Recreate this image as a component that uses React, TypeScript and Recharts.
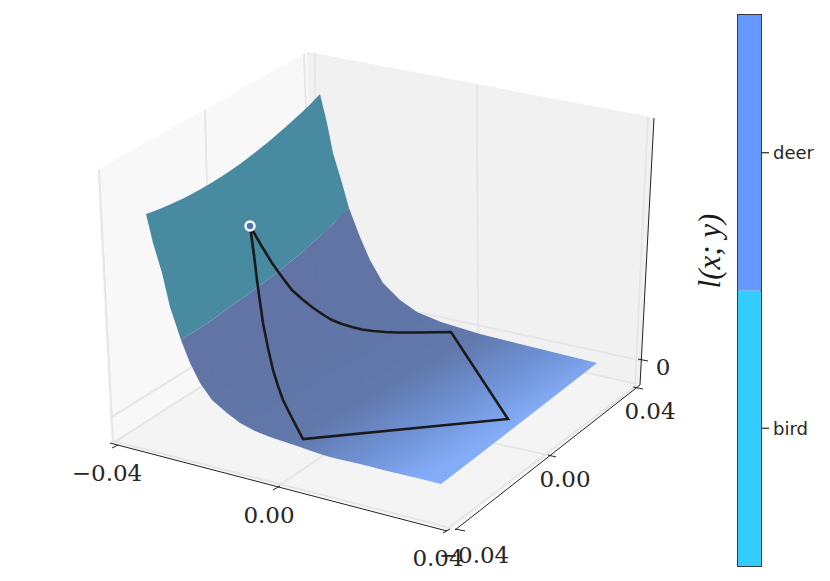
import { Area, Bar, BarChart, ComposedChart, Line, ReferenceArea, ReferenceDot, XAxis, YAxis } from "recharts";

const WIDTH = 830;
const HEIGHT = 581;

type Seg = [number, number][];

const LEFT_WALL_X = [97, 111, 307, 314];
const LEFT_WALL_TOP = [170, 162, 52, 315];
const LEFT_WALL_BOTTOM = [170, 443, 319, 315];

const RIGHT_WALL_X = [307, 314, 640, 654];
const RIGHT_WALL_TOP = [52, 53, 115, 118];
const RIGHT_WALL_BOTTOM = [52, 315, 385, 118];

const FLOOR_X = [111, 314, 450, 640];
const FLOOR_TOP = [443, 315, 344, 385];
const FLOOR_BOTTOM = [443, 495, 531, 385];

const TEAL_X = [146, 153, 162, 170, 181, 190, 200, 212, 227, 240, 255, 270, 285, 300, 310, 320, 327, 333, 342, 349];
const TEAL_TOP = [214, 211.5, 208, 204.5, 199.5, 195, 189.5, 182.5, 173, 164, 152.5, 140.5, 127.5, 114, 104.5, 94, 123, 153, 183, 208];
const TEAL_BOTTOM = [214, 243, 273, 307, 340, 334, 328, 320, 309, 300, 289, 278, 266, 254, 245, 236, 230, 224, 216, 208];

const BLUE_X = [181, 190, 200, 212, 227, 240, 255, 270, 285, 300, 310, 320, 330, 340, 349, 360, 370, 383, 400, 417, 441, 480, 520, 597];
const BLUE_TOP = [340, 334, 328, 320, 309, 300, 289, 278, 266, 254, 245, 236, 227, 217, 208, 237, 260, 283, 300, 312, 322, 334, 344, 363];
const BLUE_BOTTOM = [340, 363, 383, 400, 413, 423, 431, 437, 442, 447, 450.5, 454, 457, 459.5, 461.5, 464, 466.5, 470, 474, 478, 484, 454, 423, 363];

const GRID_LINES: Seg[] = [
  [[99, 170], [113, 442]],
  [[205, 110], [212, 382]],
  [[304, 54], [313, 314]],
  [[315, 53], [316, 313]],
  [[477, 84], [478, 350]],
  [[648, 117], [635, 384]],
  [[110, 418], [316, 290]],
  [[316, 290], [643, 361]],
  [[113, 443], [316, 313]],
  [[277, 487], [478, 350]],
  [[447, 529], [637, 385]],
  [[316, 313], [637, 384]],
  [[212, 381], [552, 456]],
  [[113, 441], [447, 527]],
];

const AXIS_LINES: Seg[] = [
  [[110, 443], [447, 531]],
  [[455, 530], [640, 385]],
  [[654, 118], [640, 385]],
];

const TICK_MARKS: Seg[] = [
  [[112, 448], [118, 445]],
  [[273, 490], [280, 486]],
  [[443, 533], [450, 529]],
  [[455, 529], [465, 531]],
  [[548, 455], [556, 457]],
  [[633, 387], [643, 389]],
  [[638, 359], [648, 361]],
];

const PATH_X = [250, 261, 272, 282, 292, 302, 312, 322, 332, 342, 352, 362, 373, 385, 397, 420, 451, 508, 303, 292, 283, 278, 273, 268, 263, 260, 257, 254, 250];
const PATH_Y = [226, 245, 263, 277, 290, 299, 307, 314, 320, 324, 327, 329.5, 331, 332, 332.5, 332.5, 332, 419, 439, 418, 400, 386, 370, 348, 323, 302, 280, 255, 226];

const START_POINT = [{ x: 250, y: 226 }];

const TICK_LABELS = ["\u22120.04", "0.00", "0.04", "\u22120.04", "0.00", "0.04", "0"];
const TICK_LABEL_X = [107, 269, 438, 474, 565, 650, 663];
const TICK_LABEL_Y = [473, 515, 558, 555, 479, 411, 367];

const CLASS_NAMES = ["bird", "deer"];
const CLASS_COLORS = ["#33ccff", "#6699ff"];
const CLASS_TICKS = [0.5, 1.5];

function band(xs: number[], tops: number[], bottoms: number[]) {
  return xs.map((x, i) => ({ x, band: [bottoms[i], tops[i]] }));
}

function segRows(seg: Seg) {
  return seg.map(([x, y]) => ({ x, y, band: [y, y] }));
}

function Shape({ rows, fill, opacity = 1 }: { rows: { x: number; band: number[] }[]; fill: string; opacity?: number }) {
  return (
    <Area
      data={rows}
      dataKey="band"
      type="linear"
      fill={fill}
      fillOpacity={opacity}
      stroke="none"
      dot={false}
      activeDot={false}
      isAnimationActive={false}
    />
  );
}

export default function App() {
  const path = PATH_X.map((x, i) => ({ x, y: PATH_Y[i] }));

  return (
    <div style={{ position: "absolute", left: 0, top: 0, width: WIDTH, height: HEIGHT, background: "#fff" }}>
      <ComposedChart width={WIDTH} height={HEIGHT} margin={{ top: 0, right: 0, bottom: 0, left: 0 }}>
        <defs>
          <linearGradient id="surface" gradientUnits="userSpaceOnUse" x1={340} y1={300} x2={438} y2={470}>
            <stop offset="0" stopColor="#5c70a2" />
            <stop offset="0.5" stopColor="#5c74a8" />
            <stop offset="0.75" stopColor="#6a8dd2" />
            <stop offset="1" stopColor="#80aaf8" />
          </linearGradient>
        </defs>
        <XAxis type="number" dataKey="x" domain={[0, WIDTH]} hide allowDataOverflow />
        <YAxis type="number" domain={[0, HEIGHT]} reversed hide allowDataOverflow />

        {Shape({ rows: band(LEFT_WALL_X, LEFT_WALL_TOP, LEFT_WALL_BOTTOM), fill: "#f8f8f8" })}
        {Shape({ rows: band(RIGHT_WALL_X, RIGHT_WALL_TOP, RIGHT_WALL_BOTTOM), fill: "#f1f1f1" })}
        {Shape({ rows: band(FLOOR_X, FLOOR_TOP, FLOOR_BOTTOM), fill: "#f4f4f4" })}

        {GRID_LINES.map((seg, i) => (
          <Area
            key={`grid-${i}`}
            data={segRows(seg)}
            dataKey="band"
            type="linear"
            fill="none"
            stroke="#e6e6e6"
            strokeWidth={1.6}
            dot={false}
            activeDot={false}
            isAnimationActive={false}
          />
        ))}

        {Shape({ rows: band(TEAL_X, TEAL_TOP, TEAL_BOTTOM), fill: "#42879e", opacity: 0.97 })}
        {Shape({ rows: band(BLUE_X, BLUE_TOP, BLUE_BOTTOM), fill: "url(#surface)", opacity: 0.97 })}

        {AXIS_LINES.map((seg, i) => (
          <Line key={`axis-${i}`} data={segRows(seg)} dataKey="y" stroke="#222" strokeWidth={1} dot={false} activeDot={false} isAnimationActive={false} />
        ))}
        {TICK_MARKS.map((seg, i) => (
          <Line key={`tick-${i}`} data={segRows(seg)} dataKey="y" stroke="#222" strokeWidth={1} dot={false} activeDot={false} isAnimationActive={false} />
        ))}

        <Line data={path} dataKey="y" type="linear" stroke="#1a1a1a" strokeWidth={2.6} dot={false} activeDot={false} isAnimationActive={false} />
        <Line
          data={START_POINT}
          dataKey="y"
          stroke="none"
          dot={{ r: 4.5, fill: "#4f74b8", stroke: "#fff", strokeWidth: 2.4 }}
          activeDot={false}
          isAnimationActive={false}
        />

        {TICK_LABELS.map((label, i) => (
          <ReferenceDot
            key={`label-${i}`}
            x={TICK_LABEL_X[i]}
            y={TICK_LABEL_Y[i]}
            r={0}
            stroke="none"
            label={{ value: label, position: "center", fontFamily: "DejaVu Serif", fontSize: 23, fill: "#262626" }}
          />
        ))}
        <ReferenceDot
          x={709}
          y={251}
          r={0}
          stroke="none"
          label={{
            value: "l(x; y)",
            position: "center",
            angle: -90,
            fontFamily: "Liberation Serif",
            fontStyle: "italic",
            fontSize: 31,
            fill: "#1a1a1a",
          }}
        />
      </ComposedChart>

      <div style={{ position: "absolute", left: 736, top: 13 }}>
        <BarChart
          width={94}
          height={555}
          data={[{ name: "classes", bird: 1, deer: 1 }]}
          margin={{ top: 2, right: 0, bottom: 2, left: 2 }}
          barCategoryGap={0}
        >
          <XAxis dataKey="name" hide />
          <YAxis
            orientation="right"
            width={69}
            type="number"
            domain={[0, 2]}
            ticks={CLASS_TICKS}
            tickFormatter={(v: number) => CLASS_NAMES[Math.floor(v)]}
            axisLine={false}
            tickSize={8}
            tickMargin={4}
            tickLine={{ stroke: "#262626", strokeWidth: 1.2 }}
            tick={{ fill: "#262626", fontSize: 18, fontFamily: "DejaVu Sans" }}
          />
          {CLASS_NAMES.map((name, i) => (
            <Bar key={name} dataKey={name} stackId="c" fill={CLASS_COLORS[i]} isAnimationActive={false} />
          ))}
          <ReferenceArea y1={0} y2={2} fill="none" stroke="#3a3a3a" strokeWidth={2} ifOverflow="visible" />
        </BarChart>
      </div>
    </div>
  );
}
